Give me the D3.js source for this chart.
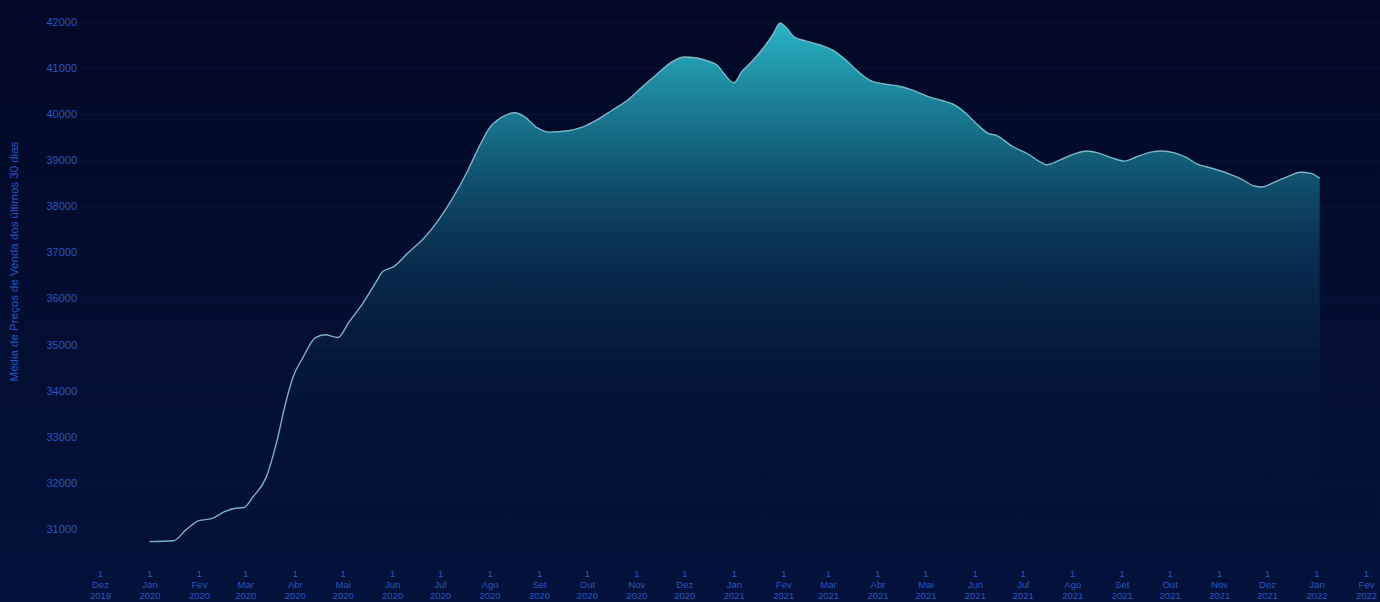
<!DOCTYPE html>
<html lang="pt">
<head>
  <meta charset="UTF-8">
  <title>Média de Preços de Venda</title>
  <script src="https://d3js.org/d3.v7.min.js"></script>
  <style>
    html, body { margin: 0; padding: 0; background: #020a2b; }
    body { font-family: 'Liberation Sans', Arial, sans-serif; }
    .tick text { fill: #2756c4; }
  </style>
</head>
<body>
  <svg width="1380" height="602"></svg>

  <script>
    // data (roughly every week)
    const dates = [
      "2020-01-01","2020-01-16","2020-01-24","2020-02-01","2020-02-09","2020-02-17","2020-02-23","2020-02-29",
      "2020-03-06","2020-03-14","2020-03-21","2020-03-26","2020-03-31","2020-04-06","2020-04-14","2020-04-20",
      "2020-04-28","2020-05-05","2020-05-13","2020-05-22","2020-05-26","2020-06-02","2020-06-11","2020-06-21",
      "2020-06-30","2020-07-09","2020-07-18","2020-07-26","2020-08-01","2020-08-09","2020-08-17","2020-08-23",
      "2020-08-31","2020-09-07","2020-09-19","2020-09-28","2020-10-07","2020-10-17","2020-10-26","2020-11-04",
      "2020-11-14","2020-11-23","2020-12-01","2020-12-09","2020-12-16","2020-12-22","2020-12-26","2021-01-01",
      "2021-01-06","2021-01-12","2021-01-20","2021-01-26","2021-01-30","2021-02-03","2021-02-08","2021-02-15",
      "2021-02-24","2021-03-04","2021-03-12","2021-03-20","2021-03-27","2021-04-04","2021-04-14","2021-04-23",
      "2021-05-02","2021-05-12","2021-05-18","2021-05-26","2021-06-02","2021-06-09","2021-06-15","2021-06-24",
      "2021-07-04","2021-07-13","2021-07-16","2021-07-24","2021-08-01","2021-08-10","2021-08-17","2021-08-26",
      "2021-09-03","2021-09-10","2021-09-20","2021-09-26","2021-10-04","2021-10-12","2021-10-18","2021-10-27",
      "2021-11-06","2021-11-15","2021-11-23","2021-11-28","2021-12-06","2021-12-15","2021-12-22","2021-12-28",
      "2022-01-03"
    ];
    const prices = [
      30720,30740,30980,31176,31220,31370,31440,31460,
      31700,32110,32930,33690,34300,34710,35150,35210,
      35150,35490,35860,36360,36580,36690,36990,37310,
      37700,38180,38750,39330,39700,39940,40030,39940,
      39700,39610,39640,39720,39870,40090,40290,40570,
      40870,41130,41240,41220,41150,41050,40870,40680,
      40920,41130,41460,41760,41980,41870,41670,41590,
      41500,41390,41180,40920,40740,40660,40610,40520,
      40390,40290,40220,40030,39790,39590,39530,39310,
      39140,38940,38900,39000,39120,39200,39160,39050,
      38980,39070,39180,39200,39160,39050,38920,38830,
      38720,38590,38440,38420,38530,38660,38740,38720,
      38610
    ];
    const yTicks = [31000,32000,33000,34000,35000,36000,37000,38000,39000,40000,41000,42000];
    const monthNames = ["Jan","Fev","Mar","Abr","Mai","Jun","Jul","Ago","Set","Out","Nov","Dez"];
    const yTitle = "Média de Preços de Venda dos últimos 30 dias";

    const parse = d3.timeParse("%Y-%m-%d");
    const data = dates.map((d, i) => ({date: parse(d), value: prices[i]}));

    const svg = d3.select("svg"),
      width = +svg.attr("width"),
      height = +svg.attr("height");

    const x = d3.scaleTime()
      .domain([new Date(2019, 11, 1), new Date(2022, 1, 1)])
      .range([100, 1366]);
    const y = d3.scaleLinear()
      .domain([30300, 42000])
      .range([561, 22]);

    const defs = svg.append("defs");
    const bg = defs.append("linearGradient").attr("id", "bg")
      .attr("x1", 0).attr("y1", 0).attr("x2", 0).attr("y2", 1);
    bg.append("stop").attr("offset", "0%").attr("stop-color", "#020826");
    bg.append("stop").attr("offset", "100%").attr("stop-color", "#03123b");

    const fill = defs.append("linearGradient").attr("id", "fill")
      .attr("gradientUnits", "userSpaceOnUse")
      .attr("x1", 0).attr("y1", y(42000)).attr("x2", 0).attr("y2", y(30300));
    fill.append("stop").attr("offset", "0%").attr("stop-color", "#2ab6c6").attr("stop-opacity", 1);
    fill.append("stop").attr("offset", "20%").attr("stop-color", "#1b88a0").attr("stop-opacity", 0.8);
    fill.append("stop").attr("offset", "45%").attr("stop-color", "#0f5070").attr("stop-opacity", 0.45);
    fill.append("stop").attr("offset", "70%").attr("stop-color", "#0a2c52").attr("stop-opacity", 0.15);
    fill.append("stop").attr("offset", "90%").attr("stop-color", "#061a40").attr("stop-opacity", 0);

    svg.append("rect").attr("width", width).attr("height", height).attr("fill", "url(#bg)");

    // y axis + grid
    const yAxis = svg.append("g")
      .attr("transform", "translate(80,0)")
      .call(d3.axisLeft(y).tickValues(yTicks).tickFormat(d3.format("d")).tickSize(-1300).tickPadding(3));
    yAxis.select(".domain").remove();
    yAxis.selectAll(".tick line").attr("stroke", "#0b1a44").attr("stroke-opacity", 0.6);
    yAxis.selectAll(".tick text").style("font-size", "11px");

    // x axis
    const xAxis = svg.append("g")
      .attr("transform", "translate(0,566)")
      .call(d3.axisBottom(x).ticks(d3.timeMonth.every(1)).tickSize(0).tickFormat(""));
    xAxis.select(".domain").remove();
    xAxis.selectAll(".tick").each(function (d) {
      const t = d3.select(this).append("text")
        .attr("text-anchor", "middle")
        .style("font-size", "9.5px");
      const lines = ["1", monthNames[d.getMonth()], d.getFullYear()];
      lines.forEach((s, i) => {
        t.append("tspan").attr("x", 0).attr("y", 11 + i * 11).text(s);
      });
    });

    const area = d3.area()
      .curve(d3.curveMonotoneX)
      .x(d => x(d.date))
      .y0(y(30300))
      .y1(d => y(d.value));

    const line = d3.line()
      .curve(d3.curveMonotoneX)
      .x(d => x(d.date))
      .y(d => y(d.value));

    svg.append("path")
      .datum(data)
      .attr("d", area)
      .attr("fill", "url(#fill)");

    svg.append("path")
      .datum(data)
      .attr("d", line)
      .attr("fill", "none")
      .attr("stroke", "#86c3cf")
      .attr("stroke-opacity", 0.9)
      .attr("stroke-width", 1.4);

    svg.append("text")
      .attr("transform", `translate(18, ${y(36800)}) rotate(-90)`)
      .attr("text-anchor", "middle")
      .attr("fill", "#2756c4")
      .style("font-size", "11.5px")
      .text(yTitle);
  </script>
</body>
</html>
